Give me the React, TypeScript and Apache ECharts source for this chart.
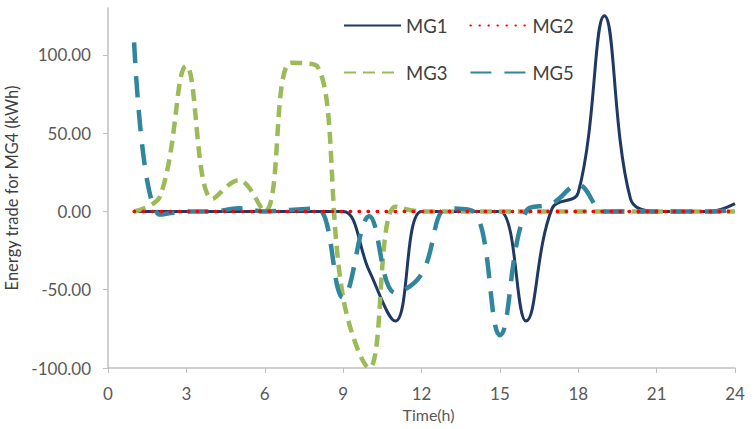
import React, { useEffect, useRef } from "react";
import * as echarts from "echarts";

const hours = [1, 2, 3, 4, 5, 6, 7, 8, 9, 10, 11, 12, 13, 14, 15, 16, 17, 18, 19, 20, 21, 22, 23, 24];
const mg1 = [0, 0, 0, 0, 0, 0, 0, 0, 0, -38, -70, 0, 0, 0, 0, -70, 2, 12, 125, 8, 0, 0, 0, 5];
const mg2 = [0, 0, 0, 0, 0, 0, 0, 0, 0, 0, 0, 0, 0, 0, 0, 0, 0, 0, 0, 0, 0, 0, 0, 0];
const mg3 = [0, 10, 93, 8, 20, 0, 95, 93, -55, -100, 3, 0, 0, 0, 0, 0, 0, 0, 0, 0, 0, 0, 0, 0];
const mg5 = [108, -2, 0, 0, 2, 0, 1, 2, -55, -3, -52, -40, 2, 0, -79, 0, 5, 17, 0, 0, 0, 0, 0, 1];
const xTicks = [0, 3, 6, 9, 12, 15, 18, 21, 24];
const yTicks = [-100, -50, 0, 50, 100];

const FONT = "Lato, 'Open Sans', sans-serif";

const pair = (ys: number[]) => hours.map((h, i) => [h, ys[i]]);

export default function App() {
  const ref = useRef<HTMLDivElement>(null);
  useEffect(() => {
    document.body.style.margin = "0";
    const chart = echarts.init(ref.current!, undefined, { renderer: "svg" });
    const legendText = { fontFamily: FONT, fontSize: 18.5, color: "#404040" };
    const legendBase = {
      left: 338,
      itemWidth: 57,
      itemHeight: 16,
      itemGap: 22,
      itemTextGap: 4,
      textStyle: legendText,
      itemStyle: { opacity: 0 },
    };
    chart.setOption({
      animation: false,
      grid: { left: 108, right: 20, top: 8, bottom: 61, outerBoundsMode: "none" },
      legend: [
        { ...legendBase, data: ["MG1", "MG2"], top: 11 },
        { ...legendBase, data: ["MG3", "MG5"], top: 58 },
      ],
      xAxis: {
        type: "value",
        min: 0,
        max: 24,
        interval: 3,
        name: "Time(h)",
        nameLocation: "middle",
        nameGap: 38,
        nameTextStyle: { fontFamily: FONT, fontSize: 16, color: "#595959", padding: [0, 0, 0, 14] },
        axisLine: { show: true, onZero: false, lineStyle: { color: "#BFBFBF", width: 1.5 } },
        axisTick: { show: true, length: 5, lineStyle: { color: "#BFBFBF" }, customValues: xTicks },
        axisLabel: { fontFamily: FONT, fontSize: 17, color: "#595959", margin: 17, customValues: xTicks },
        splitLine: { show: false },
      },
      yAxis: {
        type: "value",
        min: -100,
        max: 130,
        interval: 50,
        name: "Energy trade for MG4 (kWh)",
        nameLocation: "middle",
        nameGap: 86,
        nameTextStyle: { fontFamily: FONT, fontSize: 16.5, color: "#404040" },
        axisLine: { show: true, lineStyle: { color: "#BFBFBF", width: 1.5 } },
        axisTick: { show: true, length: 5, lineStyle: { color: "#BFBFBF" }, customValues: yTicks },
        axisLabel: {
          fontFamily: FONT,
          fontSize: 17,
          color: "#595959",
          margin: 17,
          customValues: yTicks,
          formatter: (v: number) => v.toFixed(2),
        },
        splitLine: { show: false },
      },
      series: [
        {
          name: "MG1",
          type: "line",
          data: pair(mg1),
          smooth: 0.4,
          symbol: "none",
          z: 3,
          color: "#1F3864",
          lineStyle: { color: "#1F3864", width: 3 },
        },
        {
          name: "MG2",
          type: "line",
          data: pair(mg2),
          smooth: 0.4,
          symbol: "none",
          z: 6,
          color: "#FF0000",
          lineStyle: { color: "#FF0000", width: 3.5, type: [0.5, 8.5], cap: "round" },
        },
        {
          name: "MG3",
          type: "line",
          data: pair(mg3),
          smooth: 0.4,
          symbol: "none",
          z: 4,
          color: "#9BBB59",
          lineStyle: { color: "#9BBB59", width: 4.5, type: [12, 7] },
        },
        {
          name: "MG5",
          type: "line",
          data: pair(mg5),
          smooth: 0.4,
          symbol: "none",
          z: 5,
          color: "#31859C",
          lineStyle: { color: "#31859C", width: 4.5, type: [21, 13] },
        },
      ],
    });
    return () => chart.dispose();
  }, []);
  return <div ref={ref} style={{ width: 755, height: 429 }} />;
}
